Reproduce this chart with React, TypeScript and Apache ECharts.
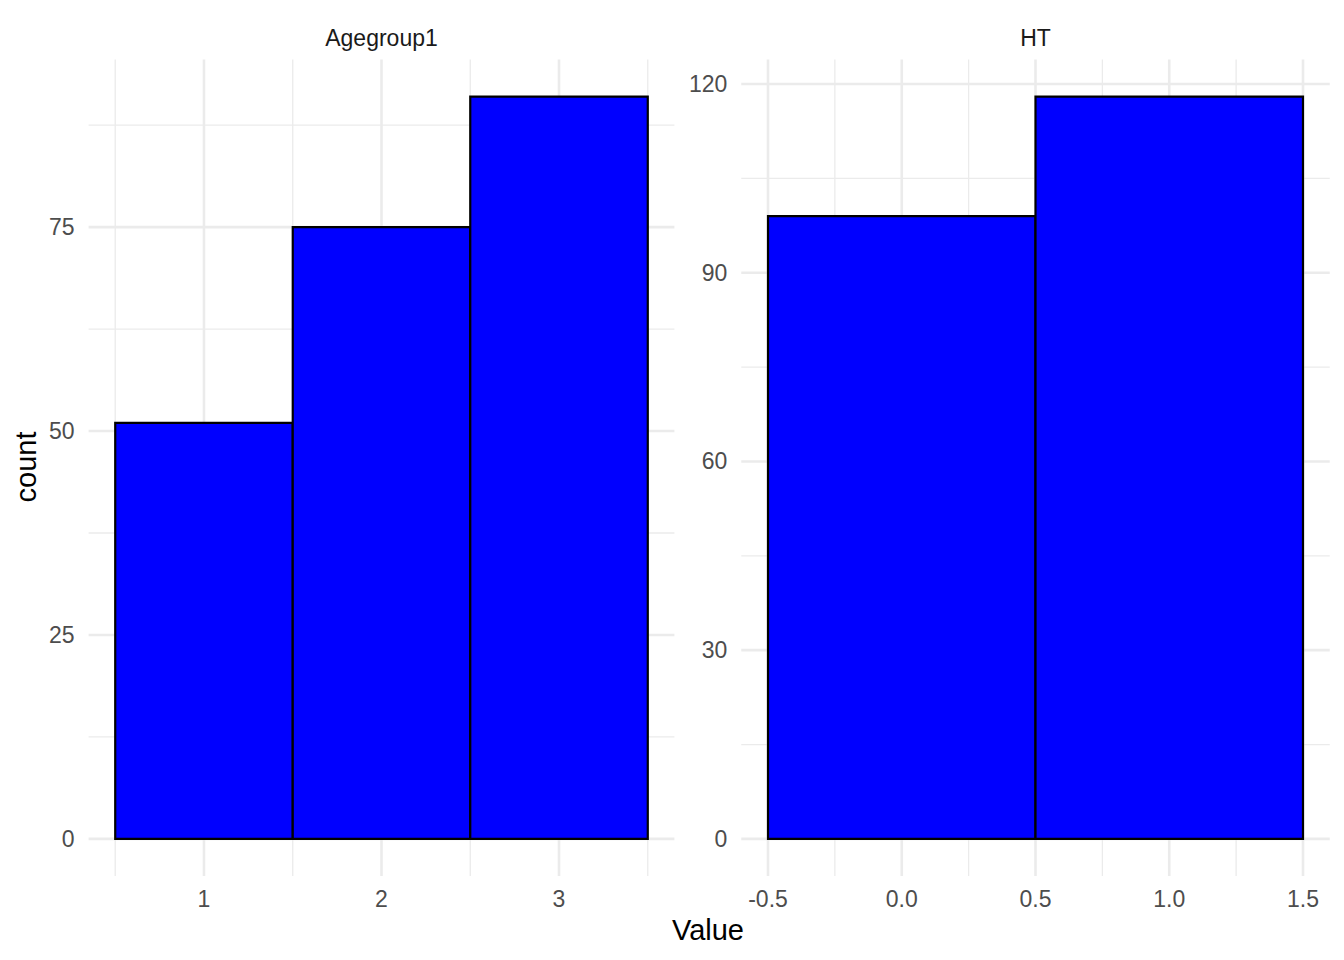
import React, { useEffect, useRef } from "react";
import * as echarts from "echarts";

// ---- Data ----
const panelTitles = ["Agegroup1", "HT"];

const ageBinStart = [0.5, 1.5, 2.5];
const ageBinEnd = [1.5, 2.5, 3.5];
const ageCounts = [51, 75, 91];

const htBinStart = [-0.5, 0.5];
const htBinEnd = [0.5, 1.5];
const htCounts = [99, 118];

const ageXMajor = [1, 2, 3];
const ageXMinor = [0.5, 1.5, 2.5, 3.5];
const ageYMajor = [0, 25, 50, 75];
const ageYMinor = [12.5, 37.5, 62.5, 87.5];

const htXMajor = [-0.5, 0, 0.5, 1, 1.5];
const htXMinor = [-0.25, 0.25, 0.75, 1.25];
const htYMajor = [0, 30, 60, 90, 120];
const htYMinor = [15, 45, 75, 105];

const FONT = "'Liberation Sans', Arial, Helvetica, sans-serif";
const GRID_COLOR = "#EBEBEB";

function expand(lo: number, hi: number) {
  const pad = (hi - lo) * 0.05;
  return [lo - pad, hi + pad];
}

export default function App() {
  const ref = useRef<HTMLDivElement>(null);

  useEffect(() => {
    if (!ref.current) return;
    const chart = echarts.init(ref.current, undefined, { renderer: "svg" });

    const panels = [
      {
        start: ageBinStart, end: ageBinEnd, counts: ageCounts,
        xMajor: ageXMajor, xMinor: ageXMinor, yMajor: ageYMajor, yMinor: ageYMinor,
        xFmt: (v: number) => String(v),
        grid: { left: 88.6, width: 585.8 },
      },
      {
        start: htBinStart, end: htBinEnd, counts: htCounts,
        xMajor: htXMajor, xMinor: htXMinor, yMajor: htYMajor, yMinor: htYMinor,
        xFmt: (v: number) => v.toFixed(1),
        grid: { left: 741.25, width: 588.5 },
      },
    ];

    const grids: any[] = [];
    const xAxes: any[] = [];
    const yAxes: any[] = [];
    const series: any[] = [];

    panels.forEach((p, i) => {
      const xr = expand(Math.min(...p.start), Math.max(...p.end));
      const yr = expand(0, Math.max(...p.counts));
      grids.push({ left: p.grid.left, width: p.grid.width, top: 59.5, height: 816.5, containLabel: false });
      xAxes.push({
        type: "value", gridIndex: i, min: xr[0], max: xr[1],
        axisLine: { show: false }, axisTick: { show: false }, splitLine: { show: false },
        axisLabel: {
          customValues: p.xMajor, formatter: p.xFmt, color: "#4D4D4D",
          fontFamily: FONT, fontSize: 23, margin: 11, lineHeight: 23,
        },
      });
      yAxes.push({
        type: "value", gridIndex: i, min: yr[0], max: yr[1],
        axisLine: { show: false }, axisTick: { show: false }, splitLine: { show: false },
        axisLabel: {
          customValues: p.yMajor, formatter: (v: number) => String(v), color: "#4D4D4D",
          fontFamily: FONT, fontSize: 23, margin: 14,
        },
      });

      const vLine = (w: number) => (params: any, api: any) => {
        const cs = params.coordSys;
        const x = api.coord([api.value(0), api.value(1)])[0];
        return {
          type: "line",
          shape: { x1: x, y1: cs.y, x2: x, y2: cs.y + cs.height },
          style: { stroke: GRID_COLOR, lineWidth: w },
        };
      };
      const hLine = (w: number) => (params: any, api: any) => {
        const cs = params.coordSys;
        const y = api.coord([api.value(0), api.value(1)])[1];
        return {
          type: "line",
          shape: { x1: cs.x, y1: y, x2: cs.x + cs.width, y2: y },
          style: { stroke: GRID_COLOR, lineWidth: w },
        };
      };
      const xMid = (xr[0] + xr[1]) / 2;
      const yMid = (yr[0] + yr[1]) / 2;
      const gridSeries = [
        { data: p.xMinor.map((v) => [v, yMid]), fn: vLine(1.3) },
        { data: p.yMinor.map((v) => [xMid, v]), fn: hLine(1.3) },
        { data: p.xMajor.map((v) => [v, yMid]), fn: vLine(2.6) },
        { data: p.yMajor.map((v) => [xMid, v]), fn: hLine(2.6) },
      ];
      gridSeries.forEach((g) => {
        series.push({
          type: "custom", xAxisIndex: i, yAxisIndex: i, silent: true, z: 1,
          clip: false, renderItem: g.fn, data: g.data,
        });
      });

      series.push({
        type: "custom", xAxisIndex: i, yAxisIndex: i, z: 5,
        encode: { x: [0, 1], y: 2 },
        data: p.start.map((s, k) => [s, p.end[k], p.counts[k]]),
        renderItem: (params: any, api: any) => {
          const p0 = api.coord([api.value(0), api.value(2)]);
          const p1 = api.coord([api.value(1), 0]);
          return {
            type: "rect",
            shape: { x: p0[0], y: p0[1], width: p1[0] - p0[0], height: p1[1] - p0[1] },
            style: { fill: "#0000FF", stroke: "#000000", lineWidth: 2.2 },
          };
        },
      });
    });

    chart.setOption({
      animation: false,
      backgroundColor: "#FFFFFF",
      grid: grids,
      xAxis: xAxes,
      yAxis: yAxes,
      series,
      graphic: [
        {
          type: "text", x: 381.5, y: 38,
          style: { text: panelTitles[0], fill: "#1A1A1A", font: `23px ${FONT}`, align: "center", verticalAlign: "middle" },
        },
        {
          type: "text", x: 1035.5, y: 38,
          style: { text: panelTitles[1], fill: "#1A1A1A", font: `23px ${FONT}`, align: "center", verticalAlign: "middle" },
        },
        {
          type: "text", x: 26, y: 467, rotation: Math.PI / 2,
          style: { text: "count", fill: "#000000", font: `29px ${FONT}`, align: "center", verticalAlign: "middle" },
        },
        {
          type: "text", x: 708, y: 930,
          style: { text: "Value", fill: "#000000", font: `29px ${FONT}`, align: "center", verticalAlign: "middle" },
        },
      ],
    });

    return () => chart.dispose();
  }, []);

  return (
    <div
      ref={ref}
      style={{ position: "fixed", left: 0, top: 0, width: 1344, height: 960, background: "#fff" }}
    />
  );
}
